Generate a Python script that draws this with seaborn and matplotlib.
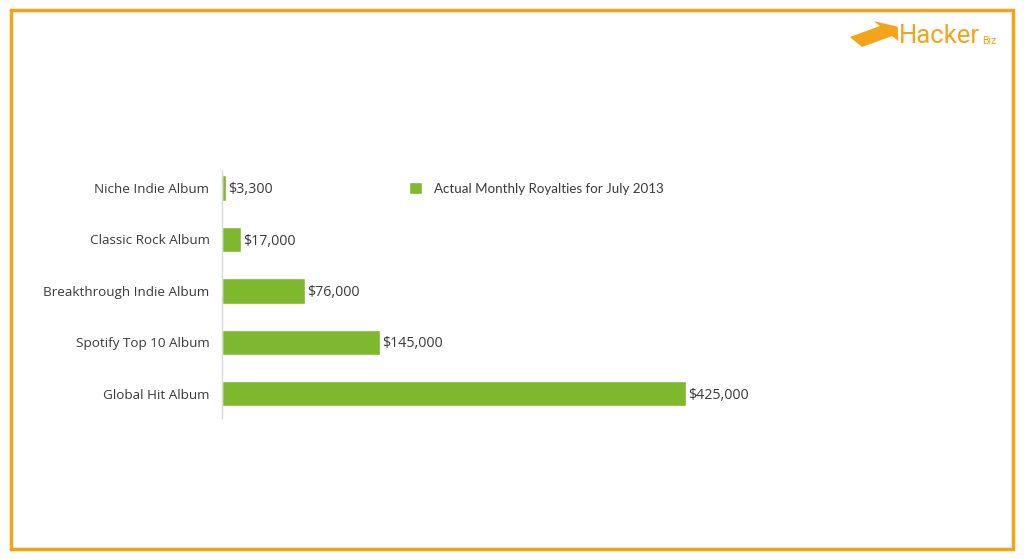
import matplotlib
matplotlib.use("Agg")
import matplotlib.pyplot as plt
import matplotlib.patches as mpatches
import pandas as pd
import seaborn as sns

# chart data
albums = ["Niche Indie Album", "Classic Rock Album", "Breakthrough Indie Album",
          "Spotify Top 10 Album", "Global Hit Album"]
royalties = [3300, 17000, 76000, 145000, 425000]
value_labels = ["$3,300", "$17,000", "$76,000", "$145,000", "$425,000"]
series_name = "Actual Monthly Royalties for July 2013"

GREEN = "#7db82e"
ORANGE = "#f5a31a"
TEXT = "#3a3a3a"


def main():
    sns.set_style("white")
    plt.rcParams["font.family"] = ["Open Sans", "DejaVu Sans"]

    df = pd.DataFrame({"album": albums, "royalties": royalties})

    fig = plt.figure(figsize=(10.24, 5.59), dpi=100)
    W, H = 1024, 559

    # orange frame around the whole picture
    fig.patches.append(mpatches.Rectangle((11 / W, 10 / H), 1002 / W, 539 / H,
                                          transform=fig.transFigure, fill=False,
                                          edgecolor=ORANGE, linewidth=2.5))

    # axes: x from 222px, 425000 -> 686px; y from 170px to 418px
    xmax = 600000
    ax_w = 464 * xmax / 425000
    ax = fig.add_axes([222 / W, 1 - 418 / H, ax_w / W, 248 / H])

    sns.barplot(data=df, y="album", x="royalties", orient="h", color=GREEN,
                width=0.49, saturation=1, ax=ax, label=series_name)

    ax.set_xlim(0, xmax)
    ax.set_ylim(4.47, -0.35)
    ax.set_xlabel("")
    ax.set_ylabel("")
    ax.set_xticks([])
    for s in ["top", "right", "bottom"]:
        ax.spines[s].set_visible(False)
    ax.spines["left"].set_color("#d8d8d8")
    ax.spines["left"].set_linewidth(1)
    ax.tick_params(axis="y", length=0, pad=9, labelsize=9.7, labelcolor=TEXT)

    for i, (v, lab) in enumerate(zip(royalties, value_labels)):
        ax.text(v + 2000, i + 0.03, lab, va="center", ha="left", fontsize=10.3, color=TEXT)

    ax.legend(loc="upper left", bbox_to_anchor=((397 - 222) / ax_w, 1),
              frameon=False, handlelength=1.0, handleheight=1.0,
              handletextpad=0.9, labelcolor=TEXT,
              prop={"family": ["Lato", "DejaVu Sans"], "size": 9.6})

    # logo top right
    fig.text(899 / W, 1 - 36 / H, "Hacker", color=ORANGE, fontsize=18.5,
             ha="left", va="center", family=["Roboto", "DejaVu Sans"])
    fig.text(982 / W, 1 - 41 / H, "Biz", color=ORANGE, fontsize=7.5,
             ha="left", va="center", family=["Roboto", "DejaVu Sans"])
    fig.patches.append(mpatches.FancyArrow(856 / W, 1 - 42 / H, 30 / W, 11 / H,
                                           width=12 / H, head_width=24 / H,
                                           head_length=14 / W,
                                           transform=fig.transFigure,
                                           color=ORANGE, linewidth=0))

    fig.savefig("out.png", dpi=100, facecolor="white")


if __name__ == "__main__":
    main()
